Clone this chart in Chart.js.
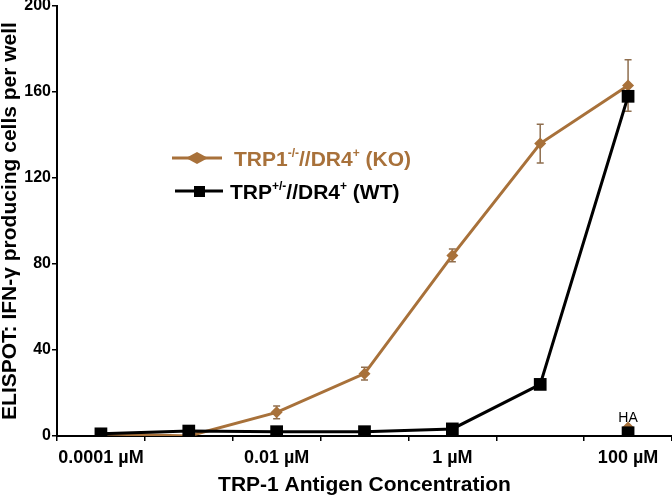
<!DOCTYPE html>
<html><head><meta charset="utf-8">
<script src="https://cdn.jsdelivr.net/npm/chart.js@4/dist/chart.umd.min.js"></script>
<style>html,body{margin:0;padding:0;background:#fff}#wrap{width:672px;height:496px;position:relative}canvas{display:block}</style>
</head><body><div id="wrap"><canvas id="c" width="672" height="496" style="width:672px;height:496px"></canvas></div>
<script>
const categories = ['0.0001 µM','0.001 µM','0.01 µM','0.1 µM','1 µM','10 µM','100 µM'];
const tickLabels = ['0.0001 µM','','0.01 µM','','1 µM','','100 µM'];
const koValues = [1, 0, 11, 29, 84, 136, 163];
const koErrors = [0, 0, 3, 3, 3, 9, 12];
const wtValues = [1, 2.3, 2, 2, 3.3, 24, 158];
const wtErrors = [0, 0, 0, 0, 0, 0, 0];
const haCategory = '100 µM';
const haKO = 4;
const haWT = 1.5;
const haLabel = 'HA';
const yTicks = [0, 40, 80, 120, 160, 200];
const legendKO = [['TRP1',0],['-/-',1],['//DR4',0],['+',1],[' (KO)',0]];
const legendWT = [['TRP',0],['+/-',1],['//DR4',0],['+',1],[' (WT)',0]];

const BROWN = '#A8713A';
const FONT = "'Liberation Sans', Arial, sans-serif";

const errorBars = {
  id: 'errorBars',
  beforeDatasetsDraw(chart) {
    const ctx = chart.ctx, x = chart.scales.x, y = chart.scales.y;
    const sets = [[koValues, koErrors, '#8f6e4e'], [wtValues, wtErrors, '#000']];
    ctx.save();
    ctx.lineWidth = 1.5;
    sets.forEach(([vals, errs, col]) => {
      ctx.strokeStyle = col;
      vals.forEach((v, i) => {
        if (!errs[i]) return;
        const px = x.getPixelForValue(i);
        const t = y.getPixelForValue(v + errs[i]), b = y.getPixelForValue(v - errs[i]);
        ctx.beginPath();
        ctx.moveTo(px, t); ctx.lineTo(px, b);
        ctx.moveTo(px - 3.5, t); ctx.lineTo(px + 3.5, t);
        ctx.moveTo(px - 3.5, b); ctx.lineTo(px + 3.5, b);
        ctx.stroke();
      });
    });
    ctx.restore();
  },
  afterDraw(chart) {
    const ctx = chart.ctx, x = chart.scales.x, y = chart.scales.y;
    ctx.save();
    ctx.fillStyle = '#000';
    ctx.font = '14px ' + FONT;
    ctx.textAlign = 'center';
    ctx.textBaseline = 'alphabetic';
    ctx.fillText(haLabel, x.getPixelForValue(categories.indexOf(haCategory)), y.getPixelForValue(haKO) - 5);
    const drawText = (parts, x0, yb, color) => {
      ctx.fillStyle = color;
      ctx.textAlign = 'left';
      let cx = x0;
      parts.forEach(([s, sup]) => {
        ctx.font = 'bold ' + (sup ? 12 : 21) + 'px ' + FONT;
        ctx.fillText(s, cx, sup ? yb - 9 : yb);
        cx += ctx.measureText(s).width;
      });
    };
    ctx.strokeStyle = BROWN; ctx.lineWidth = 3;
    ctx.beginPath(); ctx.moveTo(172, 158); ctx.lineTo(222, 158); ctx.stroke();
    ctx.fillStyle = BROWN;
    ctx.beginPath(); ctx.moveTo(186, 158); ctx.lineTo(197, 152); ctx.lineTo(208, 158); ctx.lineTo(197, 164); ctx.closePath(); ctx.fill();
    drawText(legendKO, 234, 166, BROWN);
    ctx.strokeStyle = '#000'; ctx.lineWidth = 3;
    ctx.beginPath(); ctx.moveTo(175, 191); ctx.lineTo(223, 191); ctx.stroke();
    ctx.fillStyle = '#000';
    ctx.fillRect(194, 186, 11, 11);
    drawText(legendWT, 230, 199, '#000');
    ctx.restore();
  }
};

new Chart(document.getElementById('c'), {
  type: 'line',
  data: {
    labels: categories,
    datasets: [
      { label: 'WT', data: wtValues, borderColor: '#000', backgroundColor: '#000', borderWidth: 3,
        pointStyle: 'rect', pointRadius: 9, pointBorderWidth: 0, order: 1 },
      { label: 'WT HA', data: [{x: haCategory, y: haWT}], showLine: false, borderColor: '#000', backgroundColor: '#000',
        pointStyle: 'rect', pointRadius: 9, pointBorderWidth: 0, order: 0 },
      { label: 'KO', data: koValues, borderColor: BROWN, backgroundColor: BROWN, borderWidth: 3,
        pointStyle: 'rectRot', pointRadius: 6, pointBorderWidth: 0, order: 3 },
      { label: 'KO HA', data: [{x: haCategory, y: haKO}], showLine: false, borderColor: BROWN, backgroundColor: BROWN,
        pointStyle: 'rectRot', pointRadius: 6, pointBorderWidth: 0, order: 2 }
    ]
  },
  options: {
    responsive: false,
    animation: false,
    devicePixelRatio: 1,
    layout: { padding: { top: 6, right: 0, bottom: 0, left: 0 }, autoPadding: false },
    plugins: { legend: { display: false }, tooltip: { enabled: false } },
    scales: {
      x: {
        type: 'category',
        offset: true,
        grid: { offset: true, drawOnChartArea: false, drawTicks: true, tickLength: 5, color: '#000', lineWidth: 1.5 },
        border: { display: true, color: '#000', width: 2 },
        ticks: { autoSkip: false, maxRotation: 0, padding: 6, color: '#000',
          font: { family: FONT, size: 18, weight: 'bold' },
          callback: (v, i) => tickLabels[i] },
        title: { display: true, text: 'TRP-1 Antigen Concentration', color: '#000',
          font: { family: FONT, size: 21, weight: 'bold', lineHeight: 1 }, padding: 0 },
        afterFit: s => { s.height = 60; s.paddingLeft = 0; s.paddingRight = 0; }
      },
      y: {
        min: 0, max: 200,
        afterBuildTicks: s => { s.ticks = yTicks.map(v => ({ value: v })); },
        grid: { drawOnChartArea: false, drawTicks: true, tickLength: 5, color: '#000', lineWidth: 1.5 },
        border: { display: true, color: '#000', width: 2 },
        ticks: { padding: 1, color: '#000', font: { family: FONT, size: 16, weight: 'bold' } },
        title: { display: true, text: 'ELISPOT: IFN-γ producing cells per well', color: '#000',
          font: { family: FONT, size: 21, weight: 'bold', lineHeight: 1 }, padding: 0 },
        afterFit: s => { s.width = 57; s.paddingTop = 0; s.paddingBottom = 0; }
      }
    }
  },
  plugins: [errorBars]
});
</script></body></html>
